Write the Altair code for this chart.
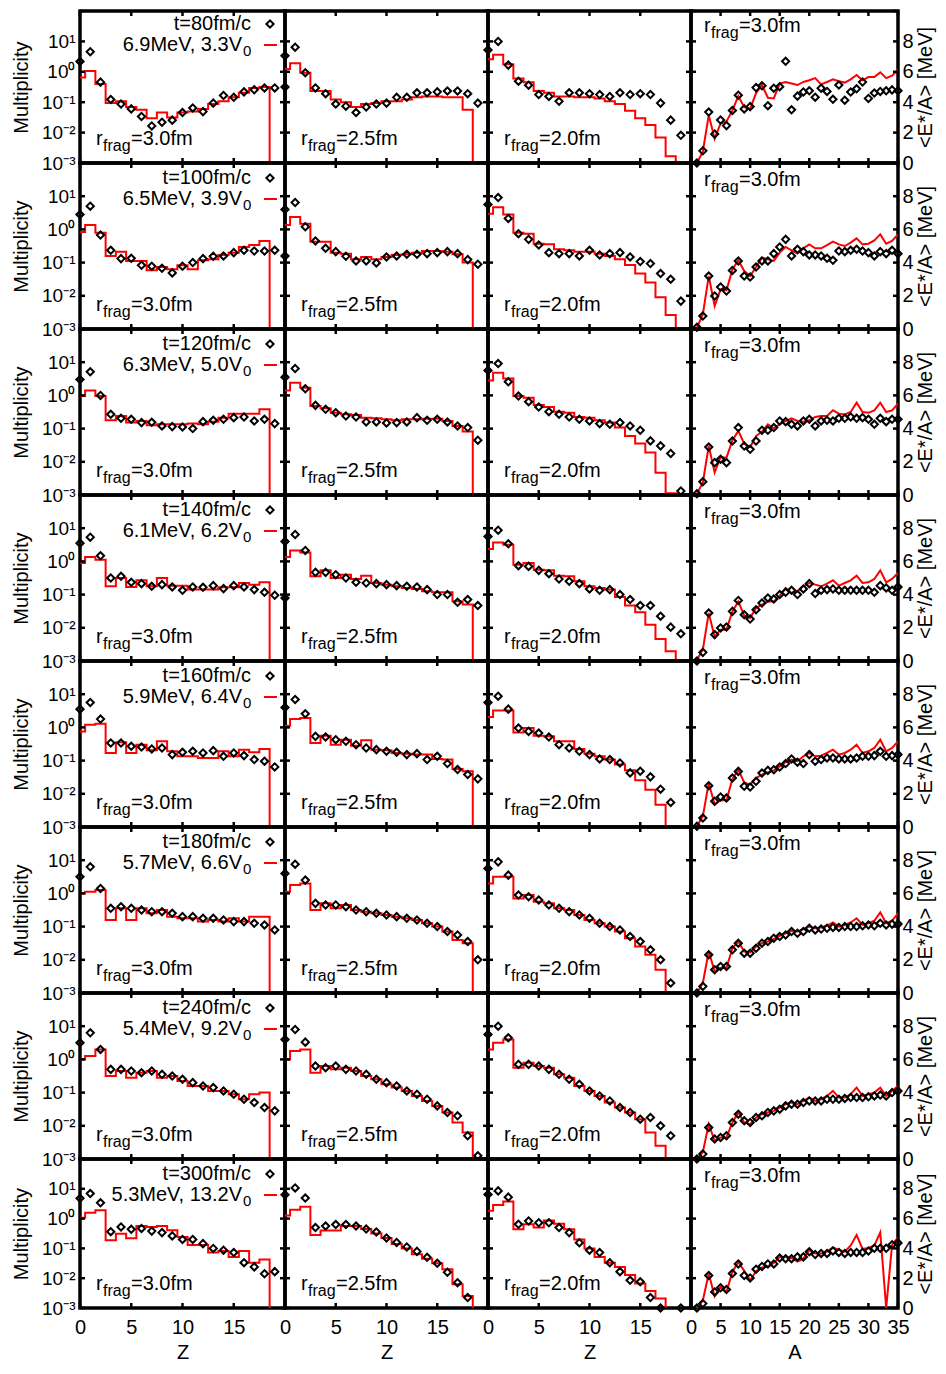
import altair as alt
import pandas as pd

FONT = "Liberation Sans"
RED = "#ff0000"

# ---------------- labels ----------------
times = ["80", "100", "120", "140", "160", "180", "240", "300"]
energies = ["6.9", "6.5", "6.3", "6.1", "5.9", "5.7", "5.4", "5.3"]
volumes = ["3.3", "3.9", "5.0", "6.2", "6.4", "6.6", "9.2", "13.2"]
rfrag = ["3.0", "2.5", "2.0", "3.0"]

z_label_ticks = [0, 5, 10, 15]
z_tick_marks = [0, 5, 10, 15, 20]
a_ticks = [0, 5, 10, 15, 20, 25, 30, 35]
m_label_ticks = [0.001, 0.01, 0.1, 1, 10]
m_tick_marks = [0.001, 0.01, 0.1, 1, 10, 100]
e_label_ticks = [0, 2, 4, 6, 8]
e_tick_marks = [0, 2, 4, 6, 8, 10]

# ---------------- data ----------------
# Z panels: log10(multiplicity) for Z = 0,1,2,...  (None = zero multiplicity)
# A panels: <E*/A> in MeV for A = 1,2,...,35

t80_r30_dyn = [0.34, 0.66, -0.34, -0.91, -1.06, -1.22, -1.47, -1.78, -1.66, -1.59, -1.34, -1.19, -1.31, -1.03, -0.78, -0.84, -0.66, -0.59, -0.53, -0.53, -0.5]
t80_r30_stat = [-0.19, 0.03, -0.4, -1.03, -0.97, -1.16, -1.25, -1.53, -1.34, -1.5, -1.34, -1.31, -1.22, -1.06, -0.97, -0.84, -0.69, -0.53, -0.5, None]
t80_r25_dyn = [0.53, 0.81, -0.03, -0.53, -0.72, -1.06, -1.13, -1.34, -1.16, -1.06, -1.03, -0.84, -0.84, -0.69, -0.69, -0.66, -0.63, -0.63, -0.72, -1.03]
t80_r25_stat = [0.09, 0.28, -0.03, -0.63, -0.63, -0.91, -1.0, -1.16, -1.06, -1.03, -0.97, -0.97, -0.91, -0.84, -0.81, -0.81, -0.84, -0.84, -1.25, None]
t80_r20_dyn = [0.72, 1.0, 0.22, -0.31, -0.44, -0.75, -0.81, -0.97, -0.69, -0.69, -0.72, -0.75, -0.81, -0.69, -0.75, -0.72, -0.75, -1.03, -1.59, -2.09]
t80_r20_stat = [0.41, 0.56, 0.25, -0.22, -0.34, -0.63, -0.69, -0.81, -0.81, -0.84, -0.84, -0.88, -0.97, -1.06, -1.28, -1.53, -1.75, -2.16, -2.78, None]
t80_eA_dyn = [0.0, 0.8, 3.35, 1.9, 2.83, 2.46, 3.46, 4.46, 3.56, 3.71, 4.96, 5.08, 3.77, 4.92, 5.02, 6.69, 3.5, 4.4, 4.67, 4.75, 4.33, 4.92, 4.71, 4.19, 5.13, 4.13, 4.67, 4.88, 5.33, 4.25, 4.6, 4.71, 4.75, 4.81, 4.75]
t80_eA_stat = [0.0, 0.75, 3.15, 1.6, 2.6, 2.73, 3.46, 4.4, 3.67, 3.56, 4.6, 5.13, 4.29, 4.25, 5.23, 5.33, 5.23, 5.13, 5.33, 5.44, 5.58, 5.17, 5.33, 5.5, 5.38, 5.29, 5.5, 5.79, 5.44, 5.65, 5.65, 5.96, 5.58, 5.75, 6.13]

t100_r30_dyn = [0.45, 0.7, -0.17, -0.63, -0.88, -0.87, -1.08, -1.11, -1.17, -1.31, -1.11, -1.0, -0.88, -0.81, -0.8, -0.7, -0.63, -0.65, -0.65, -0.63, -0.8]
t100_r30_stat = [-0.08, 0.13, -0.1, -0.8, -0.67, -0.95, -0.95, -1.23, -1.13, -1.2, -1.08, -1.2, -0.93, -0.9, -0.77, -0.7, -0.53, -0.47, -0.35, None]
t100_r25_dyn = [0.6, 0.81, 0.08, -0.35, -0.57, -0.67, -0.81, -0.95, -0.95, -1.01, -0.83, -0.8, -0.75, -0.75, -0.73, -0.7, -0.67, -0.73, -0.91, -1.05]
t100_r25_stat = [0.13, 0.37, 0.17, -0.37, -0.37, -0.7, -0.73, -0.9, -0.83, -0.9, -0.83, -0.77, -0.75, -0.7, -0.65, -0.65, -0.67, -0.75, -1.0, None]
t100_r20_dyn = [0.75, 0.96, 0.33, -0.13, -0.3, -0.47, -0.7, -0.73, -0.73, -0.8, -0.63, -0.77, -0.73, -0.7, -0.83, -0.97, -1.03, -1.33, -1.5, -2.16]
t100_r20_stat = [0.47, 0.67, 0.45, -0.1, -0.13, -0.43, -0.45, -0.6, -0.63, -0.67, -0.67, -0.73, -0.8, -0.9, -1.07, -1.33, -1.6, -2.04, -2.58, None]
t100_eA_dyn = [0.1, 0.78, 3.19, 1.99, 2.53, 2.29, 3.53, 4.1, 3.19, 3.13, 3.73, 4.1, 4.1, 4.54, 4.94, 5.4, 4.4, 4.8, 4.66, 4.46, 4.46, 4.4, 4.26, 4.14, 4.7, 4.66, 4.74, 4.8, 4.7, 4.6, 4.4, 4.66, 4.54, 4.74, 4.54]
t100_eA_stat = [0.08, 0.88, 3.19, 1.39, 2.39, 2.33, 3.59, 4.14, 3.49, 3.19, 3.73, 4.3, 4.2, 4.1, 4.6, 4.94, 4.74, 4.54, 4.86, 5.1, 4.86, 4.86, 5.06, 5.26, 5.1, 5.0, 5.2, 5.46, 5.1, 5.14, 5.34, 5.7, 5.14, 5.3, 5.7]

t120_r30_dyn = [0.48, 0.71, 0.0, -0.57, -0.69, -0.72, -0.82, -0.81, -0.92, -0.94, -0.95, -1.0, -0.79, -0.75, -0.72, -0.67, -0.65, -0.77, -0.72, -0.85]
t120_r30_stat = [-0.02, 0.15, -0.02, -0.75, -0.62, -0.82, -0.77, -0.9, -0.87, -0.87, -0.87, -0.85, -0.87, -0.79, -0.67, -0.55, -0.55, -0.55, -0.42, None]
t120_r25_dyn = [0.55, 0.81, 0.2, -0.3, -0.42, -0.52, -0.62, -0.65, -0.8, -0.8, -0.83, -0.82, -0.8, -0.67, -0.75, -0.72, -0.8, -0.92, -0.97, -1.35]
t120_r25_stat = [0.15, 0.38, 0.23, -0.32, -0.39, -0.52, -0.57, -0.59, -0.67, -0.69, -0.72, -0.75, -0.72, -0.72, -0.7, -0.7, -0.77, -0.92, -1.09, None]
t120_r20_dyn = [0.75, 0.96, 0.41, -0.02, -0.19, -0.35, -0.49, -0.57, -0.65, -0.72, -0.77, -0.85, -0.87, -0.82, -0.92, -1.05, -1.37, -1.52, -1.75, -2.88]
t120_r20_stat = [0.45, 0.68, 0.51, -0.02, -0.07, -0.29, -0.35, -0.49, -0.52, -0.65, -0.67, -0.75, -0.82, -0.97, -1.22, -1.45, -1.72, -2.33, -2.95, None]
t120_eA_dyn = [0.08, 0.8, 2.89, 1.95, 2.15, 1.95, 3.25, 4.06, 2.95, 2.75, 3.25, 3.9, 3.9, 4.06, 4.46, 4.42, 4.26, 4.16, 4.46, 4.56, 4.16, 4.46, 4.5, 4.46, 4.62, 4.62, 4.7, 4.62, 4.66, 4.56, 4.26, 4.62, 4.42, 4.56, 4.56]
t120_eA_stat = [0.08, 0.74, 2.95, 1.35, 2.29, 2.25, 3.29, 3.86, 3.09, 2.89, 3.55, 3.82, 4.26, 4.02, 4.26, 4.46, 4.62, 4.46, 4.42, 4.5, 4.7, 4.76, 4.76, 5.1, 4.9, 4.85, 5.0, 5.56, 5.0, 4.95, 5.1, 5.56, 5.0, 5.1, 5.5]

t140_r30_dyn = [0.55, 0.73, 0.17, -0.5, -0.45, -0.63, -0.67, -0.75, -0.7, -0.77, -0.87, -0.77, -0.78, -0.73, -0.82, -0.73, -0.77, -0.85, -0.93, -1.02, -1.1]
t140_r30_stat = [-0.05, 0.13, 0.05, -0.75, -0.5, -0.77, -0.57, -0.75, -0.5, -0.73, -0.73, -0.85, -0.85, -0.85, -0.78, -0.78, -0.65, -0.7, -0.63, None]
t140_r25_dyn = [0.6, 0.81, 0.33, -0.33, -0.33, -0.4, -0.5, -0.63, -0.65, -0.67, -0.7, -0.73, -0.75, -0.77, -0.85, -1.0, -1.0, -1.23, -1.15, -1.33]
t140_r25_stat = [0.13, 0.33, 0.27, -0.45, -0.27, -0.5, -0.4, -0.53, -0.43, -0.65, -0.7, -0.75, -0.8, -0.83, -0.9, -0.93, -0.93, -1.2, -1.3, None]
t140_r20_dyn = [0.75, 0.94, 0.53, -0.13, -0.15, -0.27, -0.37, -0.53, -0.6, -0.67, -0.83, -0.87, -0.85, -1.0, -1.15, -1.33, -1.33, -1.65, -1.98, -2.18]
t140_r20_stat = [0.37, 0.57, 0.5, -0.1, -0.05, -0.25, -0.27, -0.43, -0.45, -0.6, -0.75, -0.8, -0.85, -1.07, -1.33, -1.53, -1.91, -2.34, -2.71, None]
t140_eA_dyn = [0.0, 0.52, 2.89, 1.59, 1.99, 2.05, 2.99, 3.65, 2.79, 2.53, 3.09, 3.49, 3.8, 3.73, 4.0, 4.14, 4.26, 4.0, 4.34, 4.66, 4.06, 4.26, 4.3, 4.34, 4.26, 4.26, 4.26, 4.26, 4.26, 4.26, 4.14, 4.54, 4.4, 4.26, 4.46]
t140_eA_stat = [0.08, 0.68, 2.89, 1.45, 1.89, 1.89, 2.99, 3.59, 2.73, 2.59, 3.19, 3.39, 3.59, 3.59, 3.94, 4.4, 4.1, 4.2, 4.5, 4.7, 4.6, 4.5, 4.66, 4.86, 4.54, 4.7, 4.86, 5.14, 4.7, 4.74, 4.94, 5.46, 4.74, 4.94, 5.3]

t160_r30_dyn = [0.55, 0.75, 0.25, -0.47, -0.47, -0.57, -0.59, -0.65, -0.62, -0.82, -0.75, -0.72, -0.77, -0.7, -0.87, -0.77, -0.85, -0.97, -1.02, -1.19]
t160_r30_stat = [-0.12, 0.08, 0.11, -0.77, -0.45, -0.77, -0.52, -0.69, -0.42, -0.72, -0.87, -0.87, -0.92, -0.92, -0.72, -0.87, -0.67, -0.75, -0.65, None]
t160_r25_dyn = [0.6, 0.84, 0.41, -0.27, -0.29, -0.37, -0.42, -0.52, -0.62, -0.67, -0.72, -0.75, -0.82, -0.79, -0.97, -0.87, -1.09, -1.27, -1.42, -1.55]
t160_r25_stat = [0.05, 0.25, 0.28, -0.47, -0.25, -0.52, -0.37, -0.55, -0.39, -0.67, -0.69, -0.77, -0.79, -0.82, -0.82, -0.95, -0.97, -1.25, -1.32, None]
t160_r20_dyn = [0.75, 0.94, 0.55, -0.02, -0.12, -0.17, -0.29, -0.52, -0.62, -0.72, -0.82, -0.95, -0.97, -1.07, -1.37, -1.32, -1.49, -1.86, -2.26]
t160_r20_stat = [0.31, 0.51, 0.51, -0.15, -0.02, -0.25, -0.27, -0.42, -0.42, -0.65, -0.79, -0.87, -0.97, -1.12, -1.29, -1.59, -1.88, -2.33, None]
t160_eA_dyn = [0.04, 0.54, 2.49, 1.55, 1.81, 1.75, 2.95, 3.35, 2.45, 2.41, 2.75, 3.25, 3.41, 3.45, 3.61, 3.82, 4.1, 3.9, 3.82, 4.36, 3.96, 4.06, 4.16, 4.16, 4.1, 4.1, 4.1, 4.16, 4.26, 4.26, 4.3, 4.56, 4.26, 4.3, 4.36]
t160_eA_stat = [0.04, 0.64, 2.65, 1.35, 1.61, 1.61, 2.89, 3.45, 2.69, 2.55, 2.95, 3.15, 3.29, 3.41, 3.65, 3.9, 4.06, 3.96, 4.26, 4.46, 4.26, 4.3, 4.46, 4.66, 4.36, 4.46, 4.66, 4.96, 4.46, 4.56, 4.76, 5.26, 4.56, 4.76, 5.16]

t180_r30_dyn = [0.5, 0.8, 0.15, -0.45, -0.4, -0.45, -0.5, -0.55, -0.55, -0.6, -0.7, -0.7, -0.75, -0.75, -0.8, -0.85, -0.85, -0.9, -0.95, -1.1]
t180_r30_stat = [0.0, 0.05, 0.1, -0.8, -0.45, -0.8, -0.45, -0.6, -0.5, -0.7, -0.75, -0.75, -0.85, -0.8, -0.85, -0.75, -0.85, -0.7, -0.7, None]
t180_r25_dyn = [0.6, 0.88, 0.4, -0.3, -0.35, -0.35, -0.4, -0.5, -0.55, -0.6, -0.65, -0.7, -0.75, -0.8, -0.9, -1.0, -1.15, -1.25, -1.45, -2.0]
t180_r25_stat = [0.05, 0.25, 0.3, -0.5, -0.3, -0.45, -0.35, -0.5, -0.55, -0.6, -0.65, -0.7, -0.75, -0.8, -0.9, -1.0, -1.15, -1.4, -1.5, None]
t180_r20_dyn = [0.75, 0.95, 0.55, -0.05, -0.1, -0.2, -0.35, -0.45, -0.55, -0.65, -0.75, -0.9, -1.0, -1.1, -1.3, -1.45, -1.7, -2.0, -2.7]
t180_r20_stat = [0.3, 0.5, 0.5, -0.15, -0.05, -0.25, -0.3, -0.45, -0.5, -0.65, -0.8, -0.9, -1.0, -1.15, -1.35, -1.6, -1.85, -2.3, None]
t180_eA_dyn = [0.0, 0.4, 2.3, 1.4, 1.6, 1.6, 2.6, 3.0, 2.4, 2.4, 2.7, 3.0, 3.1, 3.3, 3.4, 3.5, 3.7, 3.6, 3.7, 3.9, 3.8, 3.85, 3.9, 3.95, 3.95, 4.0, 4.0, 4.0, 4.05, 4.1, 4.05, 4.2, 4.1, 4.15, 4.15]
t180_eA_stat = [0.0, 0.6, 2.5, 1.3, 1.5, 1.5, 2.7, 3.1, 2.5, 2.45, 2.8, 3.0, 3.1, 3.25, 3.45, 3.6, 3.75, 3.7, 3.85, 4.0, 3.9, 3.95, 4.05, 4.25, 4.0, 4.1, 4.25, 4.5, 4.1, 4.2, 4.35, 4.85, 4.2, 4.35, 4.8]

t240_r30_dyn = [0.5, 0.8, 0.3, -0.3, -0.3, -0.35, -0.4, -0.35, -0.45, -0.5, -0.6, -0.7, -0.8, -0.85, -0.95, -1.05, -1.2, -1.3, -1.45, -1.55]
t240_r30_stat = [0.0, 0.1, 0.3, -0.5, -0.35, -0.55, -0.4, -0.35, -0.55, -0.5, -0.65, -0.8, -0.8, -0.95, -0.95, -1.05, -1.2, -1.05, -1.0, None]
t240_r25_dyn = [0.6, 0.9, 0.52, -0.2, -0.25, -0.2, -0.3, -0.35, -0.45, -0.6, -0.7, -0.8, -0.95, -1.05, -1.2, -1.4, -1.6, -1.7, -2.3, -2.9]
t240_r25_stat = [0.0, 0.25, 0.3, -0.4, -0.2, -0.3, -0.25, -0.35, -0.5, -0.6, -0.75, -0.85, -0.95, -1.1, -1.25, -1.4, -1.6, -1.9, -2.2, None]
t240_r20_dyn = [0.75, 1.0, 0.65, -0.15, -0.15, -0.2, -0.3, -0.45, -0.6, -0.75, -0.95, -1.1, -1.25, -1.45, -1.6, -1.8, -1.75, -2.0, -2.3]
t240_r20_stat = [0.3, 0.5, 0.6, -0.25, -0.1, -0.2, -0.25, -0.45, -0.55, -0.8, -0.95, -1.1, -1.3, -1.45, -1.6, -1.8, -2.2, -2.6, None]
t240_eA_dyn = [0.0, 0.3, 1.9, 1.2, 1.3, 1.4, 2.2, 2.7, 2.3, 2.2, 2.5, 2.6, 2.8, 2.9, 3.0, 3.2, 3.3, 3.3, 3.4, 3.5, 3.5, 3.5, 3.6, 3.6, 3.6, 3.65, 3.7, 3.7, 3.7, 3.75, 3.8, 3.85, 3.8, 4.0, 4.1]
t240_eA_stat = [0.0, 0.4, 2.1, 1.1, 1.3, 1.3, 2.2, 2.8, 2.2, 2.1, 2.5, 2.7, 2.8, 2.9, 3.1, 3.3, 3.4, 3.3, 3.5, 3.7, 3.5, 3.6, 3.8, 4.1, 3.7, 3.7, 3.9, 4.3, 3.8, 3.9, 4.0, 4.3, 3.8, 4.1, 4.4]

t300_r30_dyn = [0.68, 0.84, 0.53, -0.44, -0.28, -0.36, -0.33, -0.42, -0.47, -0.58, -0.7, -0.7, -0.84, -1.0, -1.06, -1.14, -1.48, -1.62, -1.85, -1.78]
t300_r30_stat = [0.03, 0.2, 0.28, -0.73, -0.51, -0.66, -0.25, -0.28, -0.25, -0.39, -0.62, -0.89, -0.89, -1.14, -1.09, -1.29, -1.09, -1.48, -1.37, None]
t300_r25_dyn = [0.8, 1.03, 0.69, -0.3, -0.25, -0.2, -0.2, -0.25, -0.35, -0.45, -0.65, -0.8, -0.95, -1.1, -1.3, -1.5, -1.8, -2.15, -2.65]
t300_r25_stat = [0.1, 0.3, 0.4, -0.55, -0.4, -0.4, -0.25, -0.25, -0.35, -0.5, -0.65, -0.85, -1.0, -1.2, -1.35, -1.5, -1.7, -2.2, -2.6, None]
t300_r20_dyn = [0.81, 0.93, 0.72, -0.19, -0.08, -0.14, -0.14, -0.3, -0.47, -0.81, -1.06, -1.14, -1.48, -1.78, -2.07, -2.12, -2.65, -3.0, None, -3.0]
t300_r20_stat = [0.26, 0.46, 0.57, -0.36, -0.19, -0.3, -0.06, -0.17, -0.36, -0.7, -1.0, -1.29, -1.48, -1.62, -1.89, -2.18, -2.43, -2.68, None]
t300_eA_dyn = [0.0, 0.3, 2.18, 1.08, 1.36, 1.24, 2.32, 2.96, 2.18, 2.02, 2.6, 2.79, 2.96, 2.96, 3.36, 3.31, 3.31, 3.43, 3.43, 3.78, 3.59, 3.66, 3.66, 3.83, 3.73, 3.66, 3.73, 3.73, 3.73, 3.83, 4.01, 4.01, 4.01, 4.25, 4.37]
t300_eA_stat = [0.0, 0.5, 2.32, 0.77, 1.43, 1.08, 2.42, 3.08, 2.49, 1.85, 2.49, 2.72, 2.79, 3.03, 3.43, 3.43, 3.36, 3.12, 3.31, 3.9, 3.66, 3.66, 3.78, 4.06, 3.9, 3.78, 4.2, 4.9, 3.97, 4.01, 4.2, 5.07, 0.0, 4.25, 4.72]

ROWS = [
    [(t80_r30_dyn, t80_r30_stat), (t80_r25_dyn, t80_r25_stat), (t80_r20_dyn, t80_r20_stat), (t80_eA_dyn, t80_eA_stat)],
    [(t100_r30_dyn, t100_r30_stat), (t100_r25_dyn, t100_r25_stat), (t100_r20_dyn, t100_r20_stat), (t100_eA_dyn, t100_eA_stat)],
    [(t120_r30_dyn, t120_r30_stat), (t120_r25_dyn, t120_r25_stat), (t120_r20_dyn, t120_r20_stat), (t120_eA_dyn, t120_eA_stat)],
    [(t140_r30_dyn, t140_r30_stat), (t140_r25_dyn, t140_r25_stat), (t140_r20_dyn, t140_r20_stat), (t140_eA_dyn, t140_eA_stat)],
    [(t160_r30_dyn, t160_r30_stat), (t160_r25_dyn, t160_r25_stat), (t160_r20_dyn, t160_r20_stat), (t160_eA_dyn, t160_eA_stat)],
    [(t180_r30_dyn, t180_r30_stat), (t180_r25_dyn, t180_r25_stat), (t180_r20_dyn, t180_r20_stat), (t180_eA_dyn, t180_eA_stat)],
    [(t240_r30_dyn, t240_r30_stat), (t240_r25_dyn, t240_r25_stat), (t240_r20_dyn, t240_r20_stat), (t240_eA_dyn, t240_eA_stat)],
    [(t300_r30_dyn, t300_r30_stat), (t300_r25_dyn, t300_r25_stat), (t300_r20_dyn, t300_r20_stat), (t300_eA_dyn, t300_eA_stat)],
]

# ---------------- layout ----------------
COL_W = [205, 203, 203, 207]
ROW_H = [152, 166, 166, 166, 166, 166, 166, 149]
TOP_SHIFT = [-2, 0, 0, 0, 0, 0, 0, 0]
TICK_LEN = 5

LEXPR = ("'10' + ['\u207b\u00b3','\u207b\u00b2','\u207b\u00b9','\u2070','\u00b9','\u00b2']"
         "[round(log(datum.value)/LN10)+3]")


def mult_frame(vals, zero_value=None):
    recs = []
    for z, v in enumerate(vals):
        if v is None:
            if zero_value is not None:
                recs.append({"Z": z, "M": zero_value})
        else:
            recs.append({"Z": z, "M": 10 ** v})
    return pd.DataFrame(recs)


def text_layer(s, x, y, size=20, align="left", color="black"):
    return alt.Chart(pd.DataFrame({"s": [s]})).mark_text(
        align=align, baseline="alphabetic", font=FONT, fontSize=size, color=color
    ).encode(x=alt.value(x), y=alt.value(y), text="s:N")


def rfrag_layers(val, x0, ybase):
    return [
        text_layer("r", x0, ybase, 20),
        text_layer("frag", x0 + 7, ybase + 6, 16),
        text_layer("=" + val + "fm", x0 + 35, ybase, 20),
    ]


def tick_layers(xenc, yenc, xname, yname, xt, yt, w, h):
    dx = pd.DataFrame({xname: xt})
    dy = pd.DataFrame({yname: yt})
    st = dict(color="black", strokeWidth=2.5)
    L = TICK_LEN
    return [
        alt.Chart(dx).mark_rule(**st).encode(x=xenc, y=alt.value(h), y2=alt.value(h - L)),
        alt.Chart(dx).mark_rule(**st).encode(x=xenc, y=alt.value(0), y2=alt.value(L)),
        alt.Chart(dy).mark_rule(**st).encode(y=yenc, x=alt.value(0), x2=alt.value(L)),
        alt.Chart(dy).mark_rule(**st).encode(y=yenc, x=alt.value(w - L), x2=alt.value(w)),
    ]


def z_panel(r, c, dyn, stat):
    w, h = COL_W[c], ROW_H[r]
    last = r == len(ROWS) - 1
    x_axis = alt.Axis(values=z_label_ticks, title="Z", ticks=False, domain=False, grid=False,
                      labelFontSize=20, titleFontSize=20, labelPadding=9, titlePadding=5,
                      labelFlush=False, labelOverlap=False) if last else None
    y_axis = alt.Axis(values=m_label_ticks, labelExpr=LEXPR, title="Multiplicity", ticks=False,
                      domain=False, grid=False, labelFontSize=19, titleFontSize=20,
                      labelPadding=5, titlePadding=10, labelOverlap=False) if c == 0 else None
    xenc = alt.X("Z:Q", scale=alt.Scale(domain=[0, 20], nice=False, zero=False), axis=x_axis)
    yenc = alt.Y("M:Q", scale=alt.Scale(type="log", domain=[1e-3, 1e2], nice=False), axis=y_axis)

    line = alt.Chart(mult_frame(stat, 1e-9)).mark_line(
        interpolate="step", color=RED, strokeWidth=2, clip=True).encode(x=xenc, y=yenc)
    pts = alt.Chart(mult_frame(dyn)).mark_point(
        shape="diamond", filled=False, color="black", strokeWidth=2, size=52, opacity=1
    ).encode(x=xenc, y=yenc)
    layers = [line, pts] + tick_layers(xenc, yenc, "Z", "M", z_tick_marks, m_tick_marks, w, h)
    layers += rfrag_layers(rfrag[c], 16, h - 18)
    if c == 0:
        top = TOP_SHIFT[r]
        layers += [
            text_layer("t=" + times[r] + "fm/c", 171, top + 21, 20, align="right"),
            text_layer(energies[r] + "MeV, " + volumes[r] + "V", 162, top + 42, 20, align="right"),
            text_layer("0", 163, top + 47, 15),
            alt.Chart(pd.DataFrame({"k": ["dyn"]})).mark_point(
                shape="diamond", filled=False, color="black", strokeWidth=2, size=52, opacity=1
            ).encode(x=alt.value(190), y=alt.value(top + 15)),
            alt.Chart(pd.DataFrame({"k": ["stat"]})).mark_rule(color=RED, strokeWidth=2).encode(
                x=alt.value(184), x2=alt.value(197), y=alt.value(top + 36)),
        ]
    return alt.layer(*layers).properties(width=w, height=h)


def a_panel(r, c, dyn, stat):
    w, h = COL_W[c], ROW_H[r]
    last = r == len(ROWS) - 1
    x_axis = alt.Axis(values=a_ticks, title="A", ticks=False, domain=False, grid=False,
                      labelFontSize=20, titleFontSize=20, labelPadding=9, titlePadding=5,
                      labelFlush=False, labelOverlap=False) if last else None
    y_axis = alt.Axis(orient="right", values=e_label_ticks, title="<E*/A> [MeV]", titleAngle=270,
                      titleBaseline="top", titlePadding=2,
                      ticks=False, domain=False, grid=False, labelFontSize=20, titleFontSize=20,
                      labelPadding=4, labelOverlap=False)
    xenc = alt.X("A:Q", scale=alt.Scale(domain=[0, 35], nice=False, zero=False), axis=x_axis)
    yenc = alt.Y("E:Q", scale=alt.Scale(domain=[0, 10], nice=False), axis=y_axis)
    dd = pd.DataFrame({"A": list(range(1, len(dyn) + 1)), "E": dyn})
    ds = pd.DataFrame({"A": list(range(1, len(stat) + 1)), "E": stat})
    line = alt.Chart(ds).mark_line(color=RED, strokeWidth=2, clip=True).encode(x=xenc, y=yenc)
    pts = alt.Chart(dd).mark_point(
        shape="diamond", filled=False, color="black", strokeWidth=2, size=52, opacity=1
    ).encode(x=xenc, y=yenc)
    layers = [line, pts] + tick_layers(xenc, yenc, "A", "E", a_ticks, e_tick_marks, w, h)
    layers += rfrag_layers(rfrag[c], 13, TOP_SHIFT[r] + 23)
    return alt.layer(*layers).properties(width=w, height=h)


panels = []
for r, row in enumerate(ROWS):
    for c, (dyn, stat) in enumerate(row):
        if c < 3:
            panels.append(z_panel(r, c, dyn, stat))
        else:
            panels.append(a_panel(r, c, dyn, stat))

chart = alt.concat(*panels, columns=4, spacing=0, bounds="flush").properties(
    padding={"left": 1, "top": 0, "right": 0, "bottom": 0}, background="white"
).configure_view(
    stroke="black", strokeWidth=3.5
).configure_axis(
    labelFont=FONT, titleFont=FONT, labelColor="black", titleColor="black",
    titleFontWeight="normal", grid=False
)

chart.save("out.html", embed_options={"renderer": "svg", "actions": False})
